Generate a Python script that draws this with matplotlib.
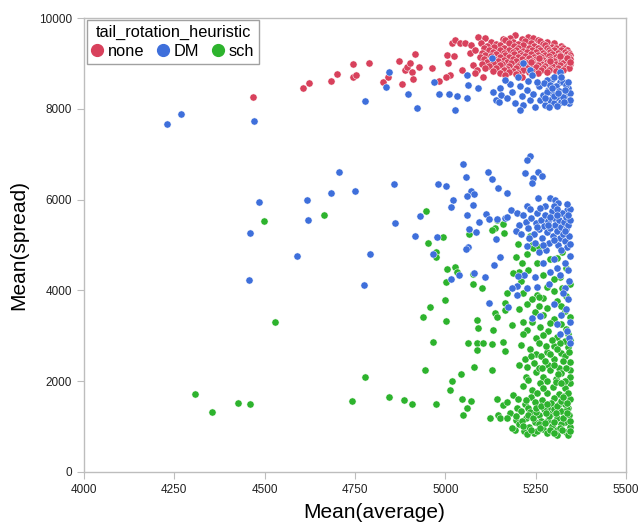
"""Scatter of Mean(spread) vs Mean(average) by tail rotation heuristic."""

import matplotlib

matplotlib.use("Agg")
import matplotlib.pyplot as plt
from matplotlib.lines import Line2D
import numpy as np

RED = "#D8415C"
BLUE = "#3E6FDB"
GREEN = "#2DB32D"
FRAME = "#BDBDBD"
INK = "#222222"

# --- data (Mean(average), Mean(spread)) ---
none_pts = [
    (4468, 8250), (4606, 8460), (4623, 8570), (4684, 8612), (4700, 8767),
    (4745, 8990), (4788, 9010), (4745, 8700), (4753, 8745), (4828, 8590),
    (4841, 8700), (4872, 9053), (4888, 8855), (4894, 8920), (4902, 9009),
    (4908, 8810), (4916, 9207), (4911, 8656), (4880, 8546), (4927, 8920),
    (4963, 8900), (4983, 8612), (5005, 9185), (5008, 9009), (5024, 9163),
    (5013, 8744), (5002, 8700), (5019, 9449), (5027, 9515), (5041, 9449),
    (5055, 9449), (5071, 9405), (5068, 9229), (5082, 9295), (5077, 8965),
    (5088, 8855), (5082, 8788), (5046, 8855), (5091, 9581), (5104, 8700),
    (5193, 9620), (5230, 9590), (5180, 9570),
    (5110, 9550), (5160, 9530), (5212, 9545), (5242, 9560), (5256, 9520),
    (5127, 9480), (5166, 9505), (5186, 9470), (5221, 9500), (5262, 9490), (5281, 9470),
    (5100, 9440), (5141, 9430), (5176, 9455), (5201, 9420), (5236, 9445), (5271, 9425), (5301, 9440),
    (5116, 9390), (5151, 9405), (5191, 9380), (5216, 9400), (5246, 9385), (5276, 9395), (5296, 9370), (5321, 9390),
    (5106, 9340), (5136, 9355), (5161, 9330), (5201, 9350), (5231, 9335), (5256, 9345), (5281, 9330), (5306, 9350), (5326, 9335),
    (5121, 9290), (5151, 9305), (5176, 9285), (5196, 9300), (5216, 9280), (5241, 9295), (5261, 9285), (5286, 9305), (5301, 9290), (5321, 9300), (5336, 9285),
    (5101, 9240), (5131, 9255), (5161, 9235), (5186, 9250), (5206, 9240), (5226, 9260), (5251, 9245), (5271, 9235), (5291, 9255), (5311, 9240), (5331, 9250), (5341, 9235),
    (5111, 9190), (5141, 9205), (5166, 9185), (5191, 9200), (5211, 9190), (5236, 9210), (5256, 9195), (5276, 9185), (5296, 9205), (5316, 9190), (5336, 9200), (5346, 9185),
    (5096, 9140), (5126, 9155), (5151, 9135), (5176, 9150), (5201, 9140), (5221, 9160), (5246, 9145), (5266, 9135), (5286, 9155), (5306, 9140), (5326, 9150), (5343, 9140),
    (5106, 9090), (5136, 9105), (5161, 9085), (5186, 9100), (5211, 9090), (5231, 9110), (5251, 9095), (5271, 9085), (5291, 9105), (5311, 9090), (5331, 9100), (5346, 9090),
    (5116, 9040), (5146, 9055), (5171, 9035), (5196, 9050), (5221, 9040), (5241, 9060), (5261, 9045), (5281, 9035), (5301, 9055), (5321, 9040), (5339, 9050),
    (5101, 8990), (5131, 9005), (5156, 8985), (5181, 9000), (5206, 8990), (5226, 9010), (5246, 8995), (5266, 8985), (5286, 9005), (5306, 8990), (5326, 9000), (5346, 8990),
    (5121, 8940), (5151, 8955), (5176, 8935), (5201, 8950), (5231, 8940), (5256, 8960), (5276, 8945), (5296, 8935), (5316, 8955), (5336, 8940),
    (5111, 8890), (5141, 8905), (5171, 8885), (5196, 8900), (5226, 8890), (5251, 8910), (5271, 8895), (5291, 8885), (5311, 8905), (5331, 8890), (5343, 8900),
    (5131, 8840), (5161, 8855), (5186, 8835), (5216, 8850), (5241, 8840), (5266, 8860), (5286, 8845), (5306, 8835), (5326, 8855),
    (5151, 8790), (5176, 8805), (5201, 8785), (5231, 8800), (5256, 8790), (5281, 8805),
    (5166, 8745), (5196, 8760), (5241, 8740), (5211, 8700),
    (5338, 9120), (5344, 9040), (5318, 9170), (5290, 9060), (5258, 9120), (5236, 9020),
]

dm_pts = [
    # upper group
    (4230, 7665), (4268, 7885), (4470, 7731), (4778, 8172), (4836, 8480),
    (4844, 8810), (4897, 8326), (4922, 8018), (4969, 8590), (4983, 8326),
    (5010, 8326), (5033, 8282), (5060, 8238), (5027, 7974), (5060, 8744),
    (5063, 8524), (5091, 8458),
    (5129, 9120), (5215, 9010), (5234, 8855), (5317, 8790), (5295, 8656),
    (5317, 8590), (5132, 8370), (5150, 8460), (5155, 8300), (5170, 8230),
    (5140, 8190), (5148, 8150), (5179, 8540), (5184, 8370), (5192, 8130),
    (5207, 8500), (5212, 8280), (5216, 8080), (5207, 7974), (5226, 8420),
    (5235, 8200), (5244, 8330), (5249, 8040), (5258, 8500), (5262, 8200),
    (5270, 8300), (5275, 8080), (5280, 8640), (5285, 8420), (5290, 8200),
    (5295, 8350), (5300, 8120), (5305, 8500), (5310, 8260), (5315, 8400),
    (5320, 8150), (5325, 8600), (5330, 8300), (5335, 8200), (5340, 8450),
    (5342, 8130), (5345, 8350), (5300, 8700), (5318, 8820), (5272, 8560),
    (5288, 8050), (5255, 8600), (5230, 8620), (5200, 8700), (5165, 8640),
    (5240, 8750), (5325, 8250), (5335, 8520), (5310, 8060), (5280, 8380),
    (5300, 8280), (5330, 8420), (5345, 8200), (5290, 8530), (5320, 8700),
    (5340, 8600), (5312, 8340), (5328, 8160), (5296, 8460), (5276, 8240),
    # middle group
    (4706, 6608), (4684, 6145), (4750, 6189), (4617, 5991), (4484, 5947),
    (4620, 5551), (4459, 5264), (4590, 4758), (4792, 4802), (4457, 4229),
    (4775, 4119), (4858, 6344), (5049, 6784), (4980, 6344), (5002, 6300),
    (5057, 6498), (5071, 6189), (5080, 6123), (5060, 6079), (5021, 5991),
    (5016, 5837), (5077, 5881), (4930, 5639), (4861, 5485), (5060, 5661),
    (5093, 5507), (4916, 5198), (4977, 5176), (5066, 5352), (5085, 5286),
    (5234, 6960), (5226, 6872), (5118, 6608), (5129, 6454), (5221, 6586),
    (5257, 6608), (5268, 6520), (5243, 6476), (5240, 6366), (5146, 6256),
    (5171, 6145), (5257, 6035), (5290, 6035), (5304, 5991), (5312, 5925),
    (5276, 5859), (5226, 5859), (5234, 5793), (5182, 5771), (5199, 5705),
    (5317, 5705), (5337, 5771), (5113, 5683), (5143, 5573), (5165, 5595),
    (5171, 5617), (5140, 5132), (5121, 5573), (5063, 4956), (5152, 4736),
    (5135, 4559), (5218, 4339), (5201, 4317), (5248, 4295), (5254, 4075),
    (5110, 4295), (5199, 4097), (5185, 4053), (5226, 4053), (4966, 4802),
    (5057, 4912), (5016, 4251), (5038, 4339), (5080, 4383), (5121, 3722),
    (5174, 3634), (5199, 3899), (5240, 3392), (5262, 3436),
    (5215, 5650), (5222, 5500), (5230, 5380), (5238, 5600), (5245, 5250),
    (5250, 5480), (5255, 5700), (5260, 5350), (5265, 5550), (5268, 5150),
    (5272, 5420), (5276, 5650), (5280, 5280), (5284, 5520), (5288, 5050),
    (5290, 5380), (5294, 5750), (5298, 5200), (5300, 5600), (5304, 5450),
    (5308, 5300), (5312, 5000), (5315, 5550), (5318, 5150), (5320, 5400),
    (5323, 5700), (5326, 5250), (5328, 5500), (5330, 5080), (5333, 5620),
    (5335, 5350), (5338, 4950), (5340, 5450), (5342, 5200), (5344, 5800),
    (5345, 5550), (5300, 5850), (5262, 5820), (5248, 5050), (5232, 5150),
    (5205, 5450), (5195, 5300), (5210, 5250), (5225, 4980), (5278, 4900),
    (5320, 4880), (5345, 5020), (5336, 5900), (5310, 5800), (5290, 5620),
    (5270, 5000), (5258, 4850), (5300, 4700), (5330, 4600), (5340, 4450),
    (5318, 4350), (5342, 4200), (5330, 4050), (5310, 4500), (5290, 4400),
    (5325, 3950), (5340, 3800), (5300, 3700), (5335, 3600), (5320, 3450),
    (5345, 3300), (5310, 3250), (5338, 3100), (5343, 2950), (5318, 3050),
    (5345, 2850), (5286, 4150), (5270, 4600), (5344, 4750), (5300, 5100),
    (5330, 5300), (5285, 5450), (5340, 5650), (5255, 5400), (5310, 5650),
]

sch_pts = [
    (4664, 5661), (4498, 5529), (4529, 3304), (4778, 2093), (4307, 1718),
    (4354, 1322), (4426, 1520), (4459, 1498), (4742, 1564), (4844, 1652),
    (4947, 5749), (4994, 5176), (5066, 5242), (5143, 5551), (5160, 5463),
    (5138, 5374), (5129, 5330), (5163, 5264), (5234, 5198), (4952, 5044),
    (4974, 4846), (4974, 4736), (5005, 4471), (5027, 4515), (5033, 4405),
    (5077, 4361), (5077, 4141), (5002, 4185), (4999, 3789), (4958, 3634),
    (4938, 3414), (5002, 3326), (5088, 3348), (5091, 3172), (4966, 2863),
    (4944, 2247), (4886, 1586), (4908, 1498), (4974, 1498), (5019, 2004),
    (5044, 2159), (5013, 1806), (5080, 2313), (5046, 1608), (5071, 1564),
    (5060, 1410), (5049, 1256), (5129, 2247), (5132, 3128), (5063, 2841),
    (5088, 2841), (5104, 2841), (5129, 2819), (5088, 2687), (5160, 2863),
    (5165, 2665), (5124, 1190), (5143, 1608), (5146, 1256), (5160, 1476),
    (5171, 1542), (5152, 1190), (5187, 1696), (5199, 1410), (5193, 925),
    (5185, 3238), (5165, 3722), (5165, 3568), (5138, 3502), (5143, 3414),
    (5171, 3943), (5204, 2357), (5226, 2313), (5223, 2093), (5229, 2026),
    (5215, 3304), (5226, 3128), (5201, 5022), (5196, 4736), (5212, 4604),
    (5204, 4405), (5240, 5000), (5243, 4934), (5187, 4383), (5270, 4339),
    (5281, 4075), (5309, 4714), (5317, 4295), (5323, 4053), (5102, 4053),
    (5254, 3899), (5270, 3833),
    (5215, 3950), (5260, 3850), (5300, 3980), (5335, 3870),
    (5225, 3700), (5280, 3620), (5310, 3760), (5248, 3520), (5330, 3550), (5205, 3600),
    (5240, 3300), (5270, 3450), (5300, 3380), (5320, 3250), (5345, 3420), (5262, 3200),
    (5215, 3050), (5250, 2950), (5285, 3100), (5310, 2980), (5335, 3150), (5345, 2900), (5270, 3020),
    (5210, 2800), (5235, 2700), (5260, 2850), (5280, 2650), (5300, 2780), (5320, 2620),
    (5340, 2750), (5250, 2600), (5330, 2880),
    (5220, 2500), (5245, 2400), (5265, 2550), (5285, 2350), (5300, 2480), (5315, 2300),
    (5330, 2560), (5345, 2420), (5275, 2450), (5238, 2550),
    (5250, 2200), (5270, 2100), (5290, 2250), (5305, 2050), (5320, 2180), (5338, 2000),
    (5280, 2000), (5260, 2280), (5345, 2250),
    (5215, 1900), (5240, 1800), (5262, 1950), (5280, 1750), (5298, 1880), (5315, 1720),
    (5330, 1850), (5345, 1950), (5270, 1850), (5305, 1980),
    (5200, 1600), (5220, 1500), (5238, 1650), (5255, 1450), (5268, 1580), (5285, 1420),
    (5300, 1620), (5315, 1500), (5328, 1680), (5340, 1420), (5345, 1600), (5248, 1550),
    (5292, 1520), (5230, 1420),
    (5180, 1300), (5195, 1150), (5210, 1350), (5222, 1200), (5235, 1320), (5248, 1100),
    (5260, 1250), (5272, 1380), (5284, 1150), (5295, 1300), (5308, 1200), (5320, 1350),
    (5332, 1100), (5342, 1250), (5170, 1180), (5265, 1120), (5300, 1380), (5336, 1380),
    (5185, 980), (5205, 1050), (5218, 900), (5232, 1000), (5245, 870), (5258, 1060),
    (5270, 950), (5282, 850), (5295, 1020), (5308, 920), (5320, 1060), (5333, 880),
    (5345, 1000), (5340, 820), (5310, 820), (5255, 900), (5225, 840), (5290, 930),
    (5225, 4800), (5260, 4950), (5290, 4700), (5335, 4500), (5210, 4200), (5230, 4450),
    (5300, 4250), (5345, 4150), (5255, 4600), (5322, 4850),
    (5212, 1120), (5228, 1260), (5242, 1180), (5252, 1330), (5262, 980), (5276, 1080),
    (5288, 1240), (5302, 1100), (5316, 960), (5326, 1180), (5338, 1300), (5346, 1120),
    (5278, 1300), (5236, 920), (5250, 1400), (5300, 850), (5322, 920), (5344, 900),
    (5266, 1450), (5310, 1450), (5330, 1500), (5214, 1010), (5196, 1240), (5282, 1500),
    (5320, 1560), (5338, 1520), (5306, 1300), (5224, 1580),
    (5325, 2450), (5335, 2300), (5342, 2650), (5318, 2850), (5344, 2100), (5330, 2000),
    (5312, 2150), (5340, 1750), (5320, 1950), (5300, 2350), (5290, 2600), (5310, 2700),
    (5296, 2900), (5340, 3050), (5326, 1650), (5278, 2780), (5268, 2300), (5255, 1750),
    (5290, 3280), (5260, 3650), (5320, 3650), (5240, 3800),
]

SERIES = ["none", "DM", "sch"]
X_TICKS = [4000, 4250, 4500, 4750, 5000, 5250, 5500]
Y_TICKS = [0, 2000, 4000, 6000, 8000, 10000]


def main() -> None:
    plt.rcParams["font.family"] = ["Liberation Sans", "DejaVu Sans"]
    fig = plt.figure(figsize=(6.43, 5.25), dpi=100)
    ax = fig.add_axes([84 / 643, 53 / 525, 542 / 643, 454 / 525])

    groups = [(sch_pts, GREEN, 2), (none_pts, RED, 3), (dm_pts, BLUE, 4)]
    for pts, color, z in groups:
        arr = np.array(pts, dtype=float)
        ax.scatter(arr[:, 0], arr[:, 1], s=27, color=color, edgecolors="white",
                   linewidths=0.35, zorder=z)

    ax.set_xlim(4000, 5500)
    ax.set_ylim(0, 10000)
    ax.set_xticks(X_TICKS)
    ax.set_yticks(Y_TICKS)
    ax.tick_params(direction="out", length=5, color=FRAME, labelsize=8.5,
                   labelcolor=INK)
    for spine in ax.spines.values():
        spine.set_color(FRAME)
        spine.set_linewidth(1.0)

    ax.set_xlabel("Mean(average)", fontsize=15, color="black")
    ax.xaxis.set_label_coords(0.535, -0.068)
    ax.set_ylabel("Mean(spread)", fontsize=15, color="black", labelpad=8)

    handles = [
        Line2D([], [], marker="o", linestyle="", markersize=8.5, color=c)
        for c in (RED, BLUE, GREEN)
    ]
    leg = ax.legend(handles, SERIES, title="tail_rotation_heuristic", ncol=3,
                    loc="upper left", bbox_to_anchor=(0.005, 0.995),
                    fontsize=11.8, title_fontsize=11.8, frameon=True,
                    fancybox=False, edgecolor="#8A8A8A", handlelength=0.7,
                    handletextpad=0.3, columnspacing=0.8, borderpad=0.3,
                    borderaxespad=0.0, labelspacing=0.2)
    leg.get_frame().set_linewidth(1.0)
    leg.set_zorder(10)

    fig.savefig("out.png", dpi=100)
    plt.close(fig)


if __name__ == "__main__":
    main()
